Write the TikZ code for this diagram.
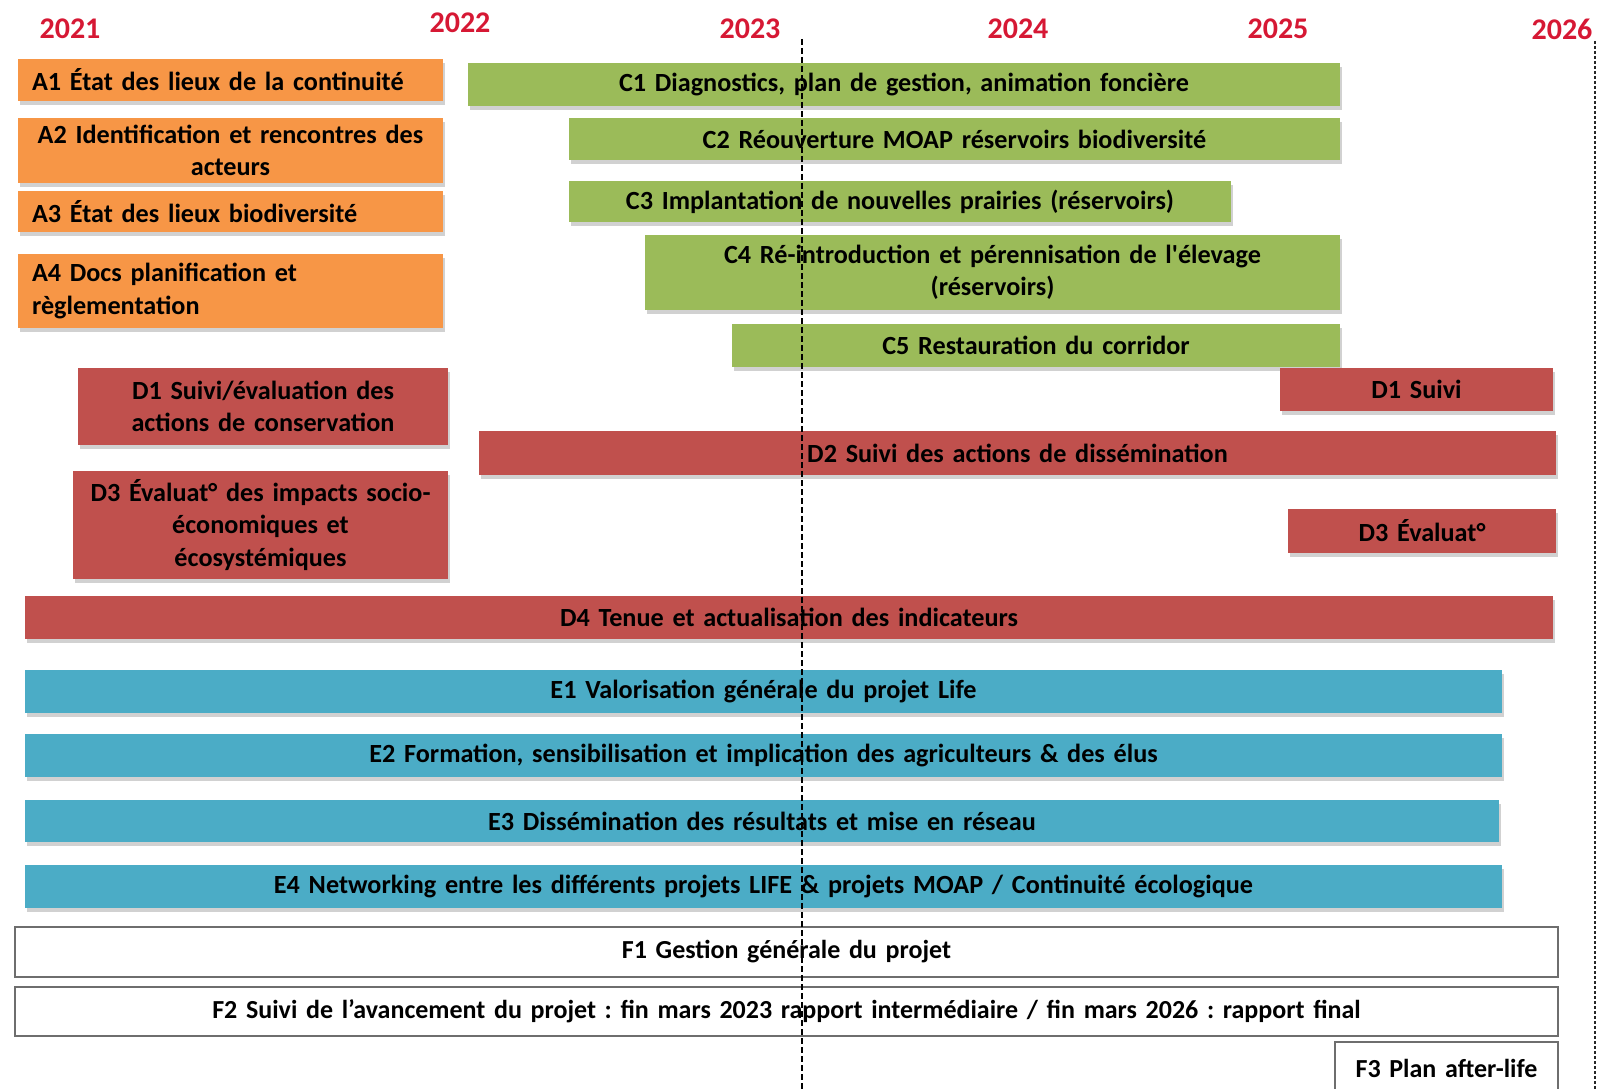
\documentclass[tikz,border=0pt]{standalone}
\usepackage{fontspec}
\setmainfont{Carlito}
\frenchspacing
\usetikzlibrary{shadows}
\definecolor{aorange}{RGB}{247,150,70}
\definecolor{cgreen}{RGB}{155,187,89}
\definecolor{dred}{RGB}{192,80,77}
\definecolor{eblue}{RGB}{75,172,198}
\definecolor{yred}{RGB}{214,24,52}
\definecolor{fborder}{RGB}{110,110,110}
% \gbar{name}{x1}{y1}{x2}{y2}{style}{margin}{text}
\newcommand{\gbar}[8]{%
  \pgfmathsetmacro\gw{#4-#2-2*#7}%
  \pgfmathsetmacro\gh{#5-#3}%
  \node[#6, inner xsep=#7pt, text width=\gw pt, minimum height=\gh pt] (#1) at ({(#2+#4)/2},{(#3+#5)/2}) {#8};}
\begin{document}
\begin{tikzpicture}[x=1pt,y=-1pt,
  barbox/.style={inner ysep=0pt, font=\fontsize{26.2}{32.5}\selectfont\bfseries,
    align=center, text=black,
    drop shadow={shadow xshift=1.5pt, shadow yshift=-4pt, opacity=0.18, fill=black}},
  abox/.style={barbox, fill=aorange, align=left},
  acbox/.style={barbox, fill=aorange},
  cbox/.style={barbox, fill=cgreen},
  dbox/.style={barbox, fill=dred},
  ebox/.style={barbox, fill=eblue},
  fbox/.style={inner ysep=0pt, font=\fontsize{26}{32}\selectfont\bfseries,
    align=center, text=black, fill=white, draw=fborder, line width=2pt},
  year/.style={font=\fontsize{30}{36}\selectfont\bfseries, text=yred, inner sep=0pt},
  midline/.style={line width=1.6pt, dash pattern=on 6pt off 3pt, black},
  endline/.style={line width=1.8pt, dash pattern=on 3pt off 2pt, black!85}]
\useasboundingbox (0,0) rectangle (1599,1089);
% years
\node[year] (y21) at (70,29) {2021};
\node[year] (y22) at (460,23) {2022};
\node[year] (y23) at (750,29) {2023};
\node[year] (y24) at (1018,29) {2024};
\node[year] (y25) at (1278,29) {2025};
\node[year] (y26) at (1562,29) {2026};
% A
\gbar{a1}{18}{59}{443}{101}{abox}{14}{A1 État des lieux de la continuité}
\gbar{a2}{18}{118}{443}{183}{acbox}{6}{A2 Identification et rencontres des\\acteurs}
\gbar{a3}{18}{191}{443}{232}{abox}{14}{A3 État des lieux biodiversité}
\gbar{a4}{18}{254}{443}{328}{abox}{14}{A4 Docs planification et\\règlementation}
% C
\gbar{c1}{468}{63}{1340}{106}{cbox}{6}{C1 Diagnostics, plan de gestion, animation foncière}
\gbar{c2}{569}{118}{1340}{160}{cbox}{6}{C2 Réouverture MOAP réservoirs biodiversité}
\gbar{c3}{569}{181}{1231}{222}{cbox}{6}{C3 Implantation de nouvelles prairies (réservoirs)}
\gbar{c4}{645}{235}{1340}{310}{cbox}{6}{C4 Ré-introduction et pérennisation de l\textquotesingle élevage\\(réservoirs)}
\gbar{c5}{732}{324}{1340}{367}{cbox}{6}{C5 Restauration du corridor}
% D
\gbar{d1a}{78}{368}{448}{445}{dbox}{6}{D1 Suivi/évaluation des\\actions de conservation}
\gbar{d1b}{1280}{368}{1553}{411}{dbox}{6}{D1 Suivi}
\gbar{d2}{479}{431}{1556}{475}{dbox}{6}{D2 Suivi des actions de dissémination}
\gbar{d3a}{73}{471}{448}{579}{dbox}{6}{D3 Évaluat° des impacts socio-\\économiques et\\écosystémiques}
\gbar{d3b}{1288}{509}{1556}{553}{dbox}{6}{D3 Évaluat°}
\gbar{d4}{25}{596}{1553}{639}{dbox}{6}{D4 Tenue et actualisation des indicateurs}
% E
\gbar{e1}{25}{670}{1502}{713}{ebox}{6}{E1 Valorisation générale du projet Life}
\gbar{e2}{25}{734}{1502}{777}{ebox}{6}{E2 Formation, sensibilisation et implication des agriculteurs \& des élus}
\gbar{e3}{25}{800}{1499}{842}{ebox}{6}{E3 Dissémination des résultats et mise en réseau}
\gbar{e4}{25}{865}{1502}{908}{ebox}{6}{E4 Networking entre les différents projets LIFE \& projets MOAP / Continuité écologique}
% F
\gbar{f1}{15}{927}{1558}{977}{fbox}{6}{F1 Gestion générale du projet}
\gbar{f2}{15}{987}{1558}{1036}{fbox}{6}{F2 Suivi de l’avancement du projet : fin mars 2023 rapport intermédiaire / fin mars 2026 : rapport final}
\gbar{f3}{1335}{1042}{1558}{1094}{fbox}{6}{F3 Plan after-life}
% vertical lines
\coordinate (m1) at (802,39);
\coordinate (m2) at (802,1089);
\coordinate (r1) at (1595,41);
\coordinate (r2) at (1595,1089);
\draw[midline] (m1) -- (m2);
\draw[endline] (r1) -- (r2);
\end{tikzpicture}
\end{document}
